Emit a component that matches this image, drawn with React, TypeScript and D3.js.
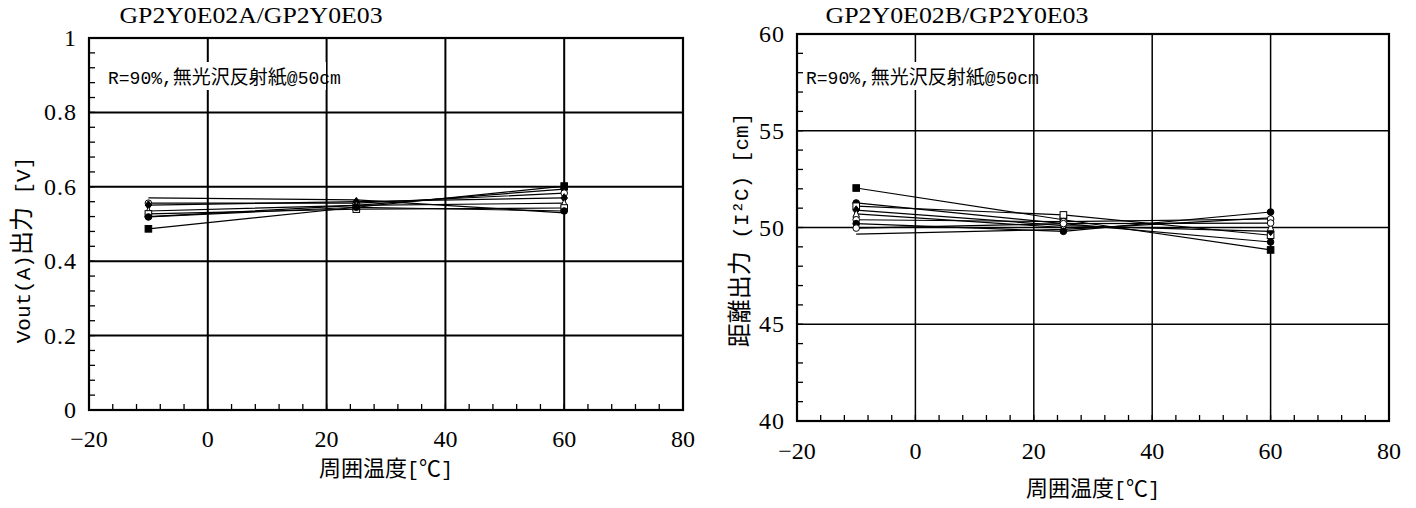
import * as d3 from 'd3';

// temperatures where the samples were measured
const temps = [-10, 25, 60];

// left panel: Vout [V], one row per sample
const voutSeries = [
  [0.487, 0.545, 0.602],
  [0.52, 0.55, 0.594],
  [0.57, 0.565, 0.53],
  [0.556, 0.556, 0.583],
  [0.551, 0.56, 0.57],
  [0.535, 0.55, 0.556],
  [0.527, 0.54, 0.543],
  [0.519, 0.545, 0.535],
];
const voutMarks = ['fsquare', 'fcircle', 'none', 'ocircle', 'fdiamond', 'triangle', 'osquare', 'fcircle'];

// right panel: distance output [cm]
const distSeries = [
  [52.04, 50.4, 48.84],
  [51.27, 50.2, 49.25],
  [51.1, 50.65, 49.6],
  [50.9, 50.1, 49.8],
  [50.7, 50.0, 50.0],
  [50.4, 50.3, 50.44],
  [50.2, 49.8, 50.8],
  [49.97, 50.2, 50.23],
  [49.66, 49.9, 50.5],
];
const distMarks = ['fsquare', 'fcircle', 'osquare', 'fdiamond', 'triangle', 'ocircle', 'fcircle', 'ocircle', 'none'];

const xTicks = [-20, 0, 20, 40, 60, 80];
const voutTicks = [0, 0.2, 0.4, 0.6, 0.8, 1];
const distTicks = [40, 45, 50, 55, 60];

const SERIF = '"Liberation Serif", "DejaVu Serif", serif';
const MONO = '"Liberation Mono", monospace';
const CJK = '"Noto Sans CJK JP", sans-serif';

// splits a label into half-width (mono) and full-width (CJK) runs
function Mixed({ text, size, ascii }) {
  const parts = text.match(/[\x20-\x7e²]+|[^\x20-\x7e²]+/g) || [];
  return (
    <>
      {parts.map((p, i) =>
        /[\x20-\x7e²]/.test(p[0]) ? (
          <tspan key={i} fontFamily={MONO} fontSize={ascii}>{p}</tspan>
        ) : (
          <tspan key={i} fontFamily={CJK} fontSize={size}>{p}</tspan>
        )
      )}
    </>
  );
}

function Marker({ kind, x, y }) {
  const s = 3.3;
  if (kind === 'none') return null;
  if (kind === 'fsquare' || kind === 'osquare')
    return <rect x={x - s} y={y - s} width={s * 2} height={s * 2} fill={kind === 'fsquare' ? '#000' : '#fff'} stroke="#000" strokeWidth={1} />;
  if (kind === 'fcircle' || kind === 'ocircle')
    return <circle cx={x} cy={y} r={s} fill={kind === 'fcircle' ? '#000' : '#fff'} stroke="#000" strokeWidth={1} />;
  if (kind === 'triangle')
    return <path d={`M${x},${y - s - 1}L${x + s},${y + s}L${x - s},${y + s}Z`} fill="#fff" stroke="#000" strokeWidth={1} />;
  return <path d={`M${x},${y - s - 1}L${x + s},${y}L${x},${y + s + 1}L${x - s},${y}Z`} fill="#000" stroke="#000" strokeWidth={1} />;
}

function Panel({ box, yDomain, yTicks, yMinor, yFmt, series, marks, gridW, title, titleX, yLabel, yLabelX, yLabelY, xLabelY, xTickY, noteX }) {
  const [x0, x1, yTop, yBot] = box;
  const x = d3.scaleLinear().domain([-20, 80]).range([x0, x1]);
  const y = d3.scaleLinear().domain(yDomain).range([yBot, yTop]);
  const line = d3.line<number>().x((_, i) => x(temps[i])).y(d => y(d));
  const xMinor = d3.range(-20, 80.01, 4);
  const yMinorTicks = d3.range(yDomain[0], yDomain[1] + 1e-6, yMinor);
  const gridY = yTicks.slice(1, -1);
  const gridX = [0, 20, 40, 60];

  return (
    <g>
      <text x={titleX} y={23} fontFamily={SERIF} fontSize={24} textAnchor="middle" textLength={263} lengthAdjust="spacingAndGlyphs">
        {title}
      </text>
      {gridY.map(t => (
        <line key={'gy' + t} x1={x0} x2={x1} y1={y(t)} y2={y(t)} stroke="#000" strokeWidth={gridW} />
      ))}
      {gridX.map(t => (
        <line key={'gx' + t} x1={x(t)} x2={x(t)} y1={yTop} y2={yBot} stroke="#000" strokeWidth={gridW} />
      ))}
      {/* annotation box hides grid behind it */}
      <rect x={noteX - 4} y={62} width={222} height={28} fill="#fff" />
      <text x={noteX} y={84}>
        <Mixed text="R=90%,無光沢反射紙@50cm" size={19} ascii={18} />
      </text>
      {xMinor.map(t => (
        <line key={'xm' + t} x1={x(t)} x2={x(t)} y1={yBot} y2={yBot - 6} stroke="#000" strokeWidth={1.3} />
      ))}
      {yMinorTicks.map(t => (
        <line key={'ym' + t} x1={x0} x2={x0 + 6} y1={y(t)} y2={y(t)} stroke="#000" strokeWidth={1.3} />
      ))}
      <rect x={x0} y={yTop} width={x1 - x0} height={yBot - yTop} fill="none" stroke="#000" strokeWidth={2.2} />
      {series.map((s, i) => (
        <path key={'l' + i} d={line(s)} fill="none" stroke="#000" strokeWidth={1.2} />
      ))}
      {series.map((s, i) =>
        s.map((v, j) => <Marker key={`m${i}-${j}`} kind={marks[i]} x={x(temps[j])} y={y(v)} />)
      )}
      {xTicks.map(t => (
        <text key={'xt' + t} x={x(t)} y={xTickY} fontFamily={SERIF} fontSize={24} textAnchor="middle">
          {t < 0 ? '\u2212' + Math.abs(t) : t}
        </text>
      ))}
      {yTicks.map(t => (
        <text key={'yt' + t} x={x0 - 12} y={y(t) + 8} fontFamily={SERIF} fontSize={24} textAnchor="end" letterSpacing={1}>
          {yFmt(t)}
        </text>
      ))}
      <text transform={`translate(${yLabelX},${yLabelY}) rotate(-90)`} textAnchor="middle">
        <Mixed text={yLabel} size={24} ascii={21} />
      </text>
      <text x={(x0 + x1) / 2} y={xLabelY} textAnchor="middle">
        <Mixed text="周囲温度[℃]" size={22} ascii={20} />
      </text>
    </g>
  );
}

export default function App() {
  return (
    <div style={{ position: 'absolute', left: 0, top: 0 }}>
      <svg width={1416} height={508} viewBox="0 0 1416 508" style={{ display: 'block', background: '#fff' }}>
        <Panel
          box={[89, 683, 38, 410]}
          yDomain={[0, 1]}
          yTicks={voutTicks}
          yMinor={0.04}
          yFmt={t => (t === 0 || t === 1 ? String(t) : t.toFixed(1))}
          series={voutSeries}
          marks={voutMarks}
          gridW={2}
          title="GP2Y0E02A/GP2Y0E03"
          titleX={251}
          yLabel="Vout(A)出力 [V]"
          yLabelX={30}
          yLabelY={250}
          xLabelY={476}
          xTickY={447}
          noteX={108}
        />
        <Panel
          box={[797, 1389, 34, 421]}
          yDomain={[40, 60]}
          yTicks={distTicks}
          yMinor={1}
          yFmt={t => String(t)}
          series={distSeries}
          marks={distMarks}
          gridW={1.5}
          title="GP2Y0E02B/GP2Y0E03"
          titleX={957}
          yLabel="距離出力 (I²C) [cm]"
          yLabelX={748}
          yLabelY={230}
          xLabelY={496}
          xTickY={459}
          noteX={806}
        />
      </svg>
    </div>
  );
}
